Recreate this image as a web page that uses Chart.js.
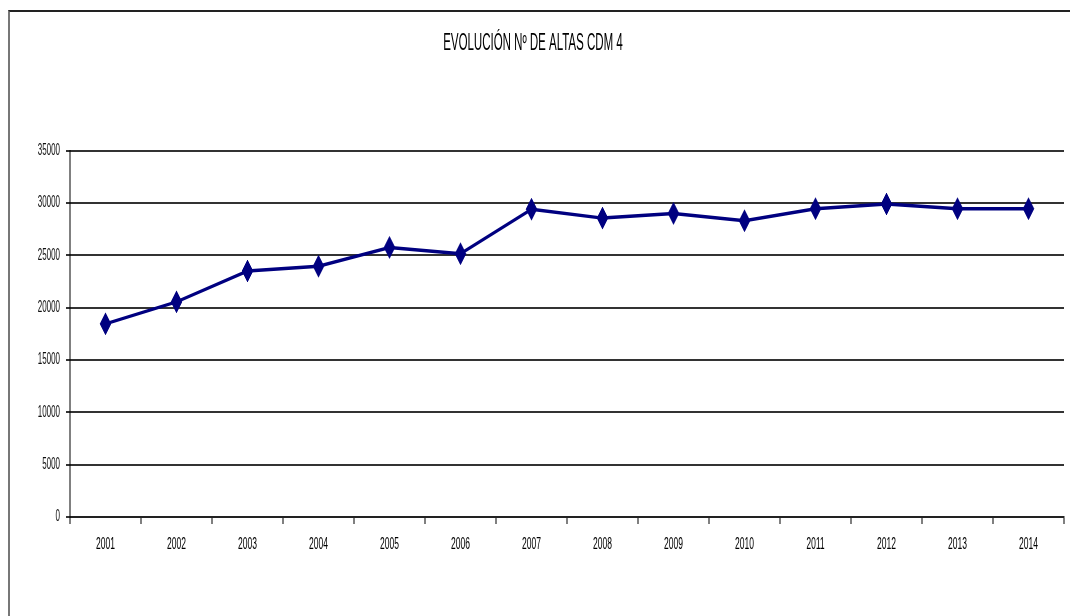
<!DOCTYPE html>
<html>
<head>
<meta charset="utf-8">
<script src="https://cdn.jsdelivr.net/npm/chart.js@4/dist/chart.umd.min.js"></script>
<style>
    html, body { margin: 0; padding: 0; background: #fff; overflow: hidden; }
    #frame { position: absolute; left: 8px; top: 10px; width: 1062px; height: 606px;
             border-top: 2px solid #222; border-left: 2px solid #777; }
    /* the original chart is squeezed horizontally, so draw it twice as wide and compress it */
    #stretch { position: absolute; left: 0; top: 0; width: 2140px; height: 616px;
               transform: scaleX(0.5); transform-origin: 0 0; }
</style>
</head>
<body>
<div id="frame"></div>
<div id="stretch"><canvas id="altasChart"></canvas></div>
<script>
const years = ['2001', '2002', '2003', '2004', '2005', '2006', '2007',
               '2008', '2009', '2010', '2011', '2012', '2013', '2014'];
const altas = [18450, 20550, 23500, 23950, 25750, 25150, 29400,
               28550, 29000, 28300, 29450, 29900, 29450, 29450];
const yTicks = [0, 5000, 10000, 15000, 20000, 25000, 30000, 35000];
const chartTitle = 'EVOLUCIÓN Nº DE ALTAS CDM 4';

const font = "'Liberation Sans', Arial, sans-serif";

document.addEventListener("DOMContentLoaded", function () {
    const ctx = document.getElementById('altasChart').getContext('2d');
    new Chart(ctx, {
        type: 'line',
        data: {
            labels: years,
            datasets: [{
                data: altas,
                borderColor: '#000080',
                backgroundColor: '#000080',
                borderWidth: 3.5,
                tension: 0,
                pointStyle: 'rectRot',
                pointRadius: 11,
                pointBorderWidth: 1
            }]
        },
        options: {
            responsive: true,
            maintainAspectRatio: false,
            animation: false,
            layout: { padding: { left: 0, right: 8, top: 0, bottom: 0 } },
            plugins: {
                legend: { display: false },
                tooltip: { enabled: false },
                title: {
                    display: true,
                    text: chartTitle,
                    color: '#000',
                    font: { family: font, size: 23, weight: 'normal' },
                    padding: { top: 30, bottom: 93 }
                }
            },
            scales: {
                x: {
                    offset: true,
                    grid: { offset: true, drawOnChartArea: false, drawTicks: true,
                            tickLength: 7, color: '#000', lineWidth: 2 },
                    border: { color: '#222', width: 2 },
                    ticks: { color: '#000', font: { family: font, size: 17 },
                             padding: 10, maxRotation: 0, autoSkip: false },
                    afterFit: scale => { scale.height = 99; }
                },
                y: {
                    min: 0,
                    max: 35000,
                    afterBuildTicks: scale => { scale.ticks = yTicks.map(v => ({ value: v })); },
                    grid: { color: '#333', lineWidth: 2, tickLength: 8 },
                    border: { color: '#000', width: 2 },
                    ticks: { color: '#111', font: { family: font, size: 16 }, padding: 12,
                             callback: value => String(value) },
                    afterFit: scale => { scale.width = 140; }
                }
            }
        }
    });
});
</script>
</body>
</html>
